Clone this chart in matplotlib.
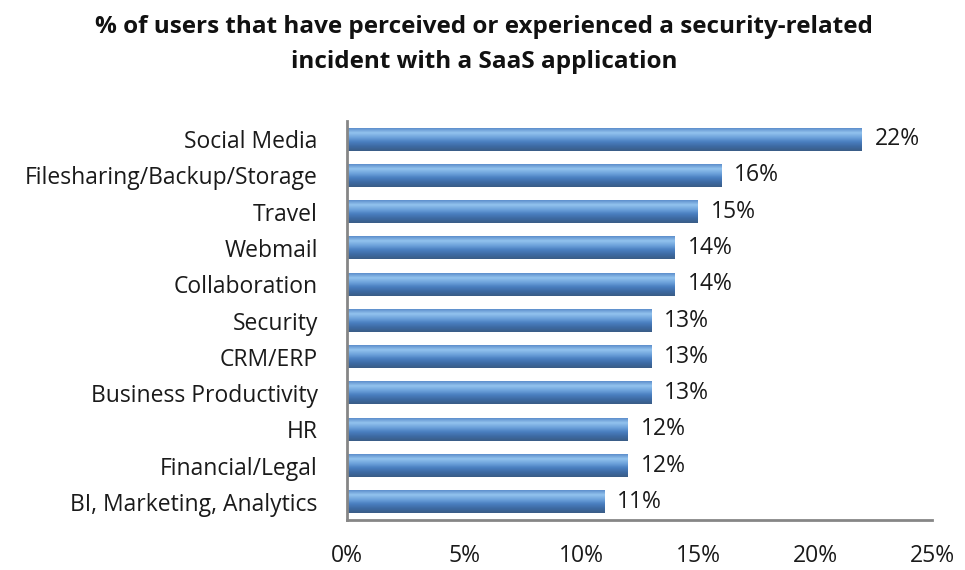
import matplotlib
matplotlib.use("Agg")
import matplotlib.pyplot as plt
import matplotlib.ticker as mticker
import numpy as np
from matplotlib.colors import LinearSegmentedColormap

categories = ["Social Media", "Filesharing/Backup/Storage", "Travel", "Webmail",
              "Collaboration", "Security", "CRM/ERP", "Business Productivity",
              "HR", "Financial/Legal", "BI, Marketing, Analytics"]
values = [22, 16, 15, 14, 14, 13, 13, 13, 12, 12, 11]
x_ticks = [0, 5, 10, 15, 20, 25]
title_lines = ["% of users that have perceived or experienced a security-related",
               "incident with a SaaS application"]

plt.rcParams['font.family'] = ['Open Sans', 'DejaVu Sans']
FS = 16.5

fig = plt.figure(figsize=(9.65, 5.7), dpi=100)
ax = fig.add_axes([0.3596, 0.0877, 0.6062, 0.7000])

# vertical gradient for the bars (top light -> bottom dark)
bar_cmap = LinearSegmentedColormap.from_list(
    "bar", ["#3a5c86", "#3d6aa3", "#4a7fc0", "#6ea3dc", "#93c3ee", "#5d8fcc"])
grad = np.linspace(0, 1, 64).reshape(-1, 1)

h = 0.63
ypos = np.arange(len(categories))[::-1]
for y, v in zip(ypos, values):
    ax.imshow(grad, cmap=bar_cmap, origin='lower', aspect='auto',
              extent=[0, v, y - h / 2, y + h / 2], zorder=2)
    ax.text(v + 0.55, y, f"{v}%", va='center', ha='left', fontsize=FS,
            color='#1a1a1a')

ax.set_xlim(0, 25)
ax.set_ylim(-0.5, len(categories) - 0.5)
ax.set_yticks(ypos)
ax.set_yticklabels(categories, fontsize=FS, color='#1a1a1a')
ax.set_xticks(x_ticks)
ax.xaxis.set_major_formatter(mticker.FuncFormatter(lambda v, p: f"{v:.0f}%"))
ax.tick_params(axis='x', length=0, pad=17, labelsize=FS, labelcolor='#1a1a1a')
ax.tick_params(axis='y', length=0, pad=21)

for s in ['top', 'right']:
    ax.spines[s].set_visible(False)
for s in ['left', 'bottom']:
    ax.spines[s].set_color('#868686')
    ax.spines[s].set_linewidth(2)

fig.text(0.502, 1 - 33 / 570, title_lines[0], ha='center', va='baseline',
         fontsize=17.5, fontweight='bold', color='#111111')
fig.text(0.502, 1 - 68 / 570, title_lines[1], ha='center', va='baseline',
         fontsize=17.5, fontweight='bold', color='#111111')

fig.savefig("out.png", dpi=100)
